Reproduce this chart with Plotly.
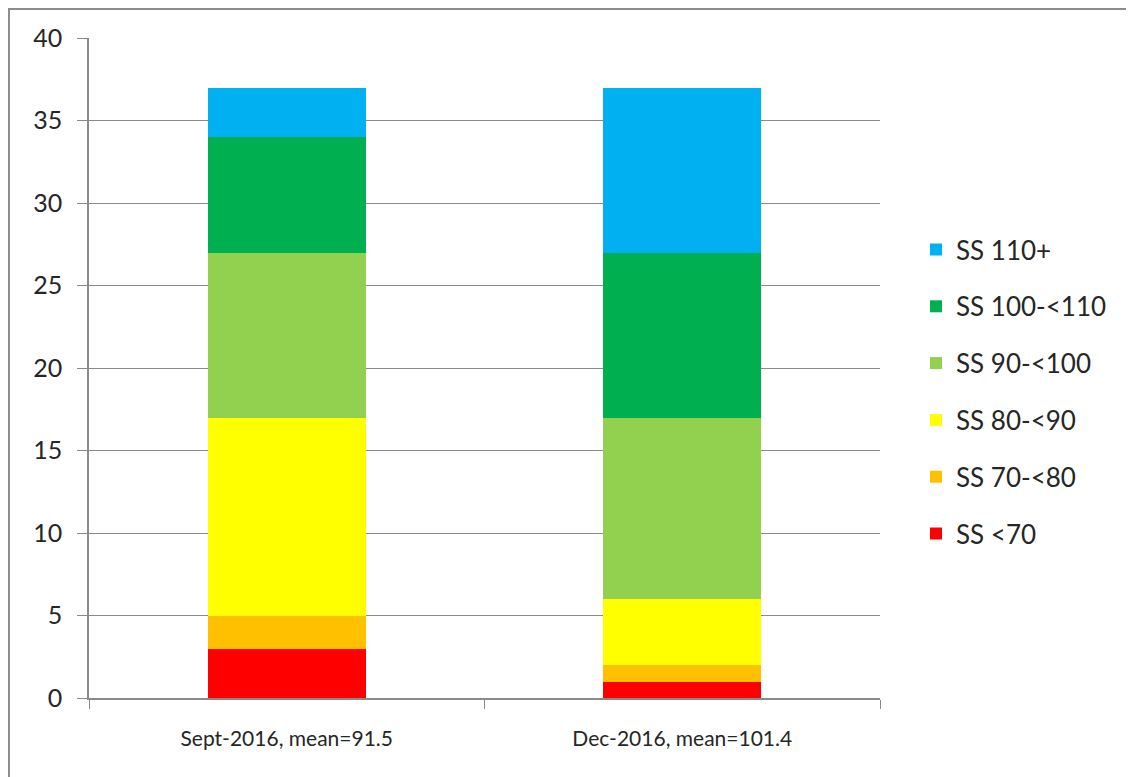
import plotly.graph_objects as go

# ── Data ──────────────────────────────────────────────────────────────────────
periods = ["Sept-2016, mean=91.5", "Dec-2016, mean=101.4"]

bands = ["SS <70", "SS 70-<80", "SS 80-<90", "SS 90-<100", "SS 100-<110", "SS 110+"]
counts_sept = [3, 2, 12, 10, 7, 3]
counts_dec = [1, 1, 4, 11, 10, 10]

band_colors = ["#FF0000", "#FFC000", "#FFFF00", "#92D050", "#00B050", "#00B0F0"]

y_ticks = [0, 5, 10, 15, 20, 25, 30, 35, 40]

# ── Figure ────────────────────────────────────────────────────────────────────
fig = go.Figure()
for i, band in enumerate(bands):
    fig.add_trace(go.Bar(
        x=periods,
        y=[counts_sept[i], counts_dec[i]],
        name=band,
        legendgroup=band,
        legendrank=len(bands) - i,   # top band first in legend
        marker=dict(color=band_colors[i], line=dict(width=0)),
        width=0.4,
    ))

grid = "#8a8a8a"
fig.update_layout(
    barmode="stack",
    width=1134,
    height=777,
    paper_bgcolor="white",
    plot_bgcolor="white",
    font=dict(family="Lato, Open Sans, sans-serif", size=18, color="#262626"),
    margin=dict(l=81, r=262, t=30, b=87),
    legend=dict(
        x=1.0455, y=0.715, xanchor="left", yanchor="top",
        traceorder="grouped",
        tracegroupgap=20,
        font=dict(size=26, color="#262626"),
        itemwidth=30,
    ),
    xaxis=dict(
        automargin=False,
        showline=True, linecolor=grid, linewidth=1.5,
        ticks="outside", tickson="boundaries", ticklen=9, tickcolor=grid,
        tickfont=dict(size=21),
        ticklabelstandoff=21,
        showgrid=False,
    ),
    yaxis=dict(
        automargin=False,
        range=[0, 40], tickvals=y_ticks,
        showline=True, linecolor=grid, linewidth=1.5,
        ticks="outside", ticklen=10, tickcolor=grid,
        ticklabelstandoff=10,
        showgrid=True, gridcolor=grid, gridwidth=1.2,
        zeroline=False,
        tickfont=dict(size=25),
    ),
    shapes=[
        dict(type="line", xref="paper", yref="paper",
             x0=-0.103, x1=1.34, y0=1.044, y1=1.044,
             line=dict(color="#8c8c8c", width=2)),
        dict(type="line", xref="paper", yref="paper",
             x0=-0.1012, x1=-0.1012, y0=1.045, y1=-0.14,
             line=dict(color="#8c8c8c", width=2)),
    ],
)

fig.write_html("out.html")
